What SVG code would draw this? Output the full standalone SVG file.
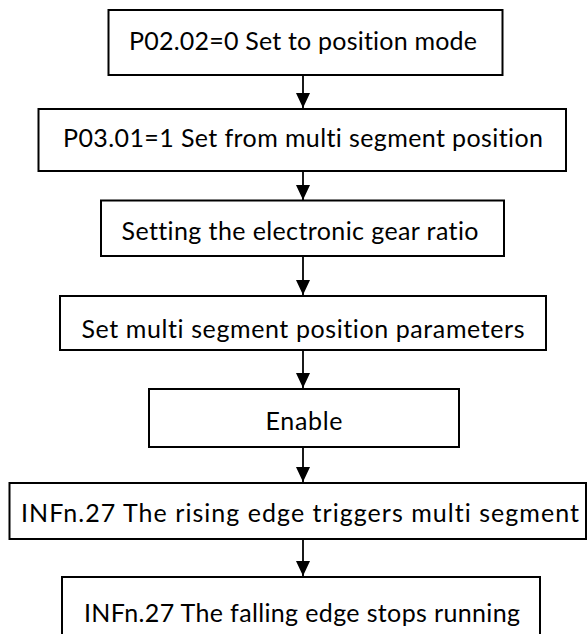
<svg xmlns="http://www.w3.org/2000/svg" width="587" height="634" viewBox="0 0 587 634">
  <defs>
    <style>
      .box { fill: #ffffff; stroke: #000000; stroke-width: 2; }
      .label { font-family: "Lato", "Open Sans", "Liberation Sans", sans-serif; font-size: 25px; fill: #000000; text-anchor: middle; font-variant-ligatures: none; font-feature-settings: "liga" 0, "clig" 0; }
      .link { stroke: #000000; stroke-width: 1.8; fill: none; marker-end: url(#arrow); }
    </style>
    <marker id="arrow" viewBox="0 0 15 14" refX="15" refY="7" markerWidth="15" markerHeight="14" markerUnits="userSpaceOnUse" orient="auto">
      <path d="M0,0 L15,7 L0,14 Z" fill="#000000"/>
    </marker>
  </defs>
  <rect width="587" height="634" fill="#ffffff"/>

  <g id="connectors">
    <line class="link" x1="303" y1="75" x2="303" y2="108"/>
    <line class="link" x1="303" y1="171" x2="303" y2="200"/>
    <line class="link" x1="303" y1="256" x2="303" y2="295"/>
    <line class="link" x1="303" y1="350" x2="303" y2="388"/>
    <line class="link" x1="303" y1="447" x2="303" y2="482"/>
    <line class="link" x1="303" y1="539" x2="303" y2="576"/>
  </g>

  <g id="step-mode">
    <rect class="box" x="108.5" y="10" width="394" height="65"/>
    <text class="label" x="303" y="50" textLength="348" lengthAdjust="spacing">P02.02=0 Set to position mode</text>
  </g>

  <g id="step-source">
    <rect class="box" x="38.5" y="109" width="527.5" height="62"/>
    <text class="label" x="303" y="147" textLength="480" lengthAdjust="spacing">P03.01=1 Set from multi segment position</text>
  </g>

  <g id="step-gear">
    <rect class="box" x="101" y="200.5" width="403" height="55.5"/>
    <text class="label" x="300" y="240" textLength="357" lengthAdjust="spacing">Setting the electronic gear ratio</text>
  </g>

  <g id="step-params">
    <rect class="box" x="60" y="296" width="486" height="54"/>
    <text class="label" x="303" y="338" textLength="443" lengthAdjust="spacing">Set multi segment position parameters</text>
  </g>

  <g id="step-enable">
    <rect class="box" x="149" y="389" width="310" height="58"/>
    <text class="label" x="304" y="430" textLength="77" lengthAdjust="spacing">Enable</text>
  </g>

  <g id="step-trigger">
    <rect class="box" x="9.5" y="483" width="576.5" height="56"/>
    <text class="label" x="300" y="522" textLength="558" lengthAdjust="spacing">INFn.27 The rising edge triggers multi segment</text>
  </g>

  <g id="step-stop">
    <rect class="box" x="62" y="577" width="478" height="80"/>
    <text class="label" x="302" y="622" textLength="436" lengthAdjust="spacing">INFn.27 The falling edge stops running</text>
  </g>
</svg>
